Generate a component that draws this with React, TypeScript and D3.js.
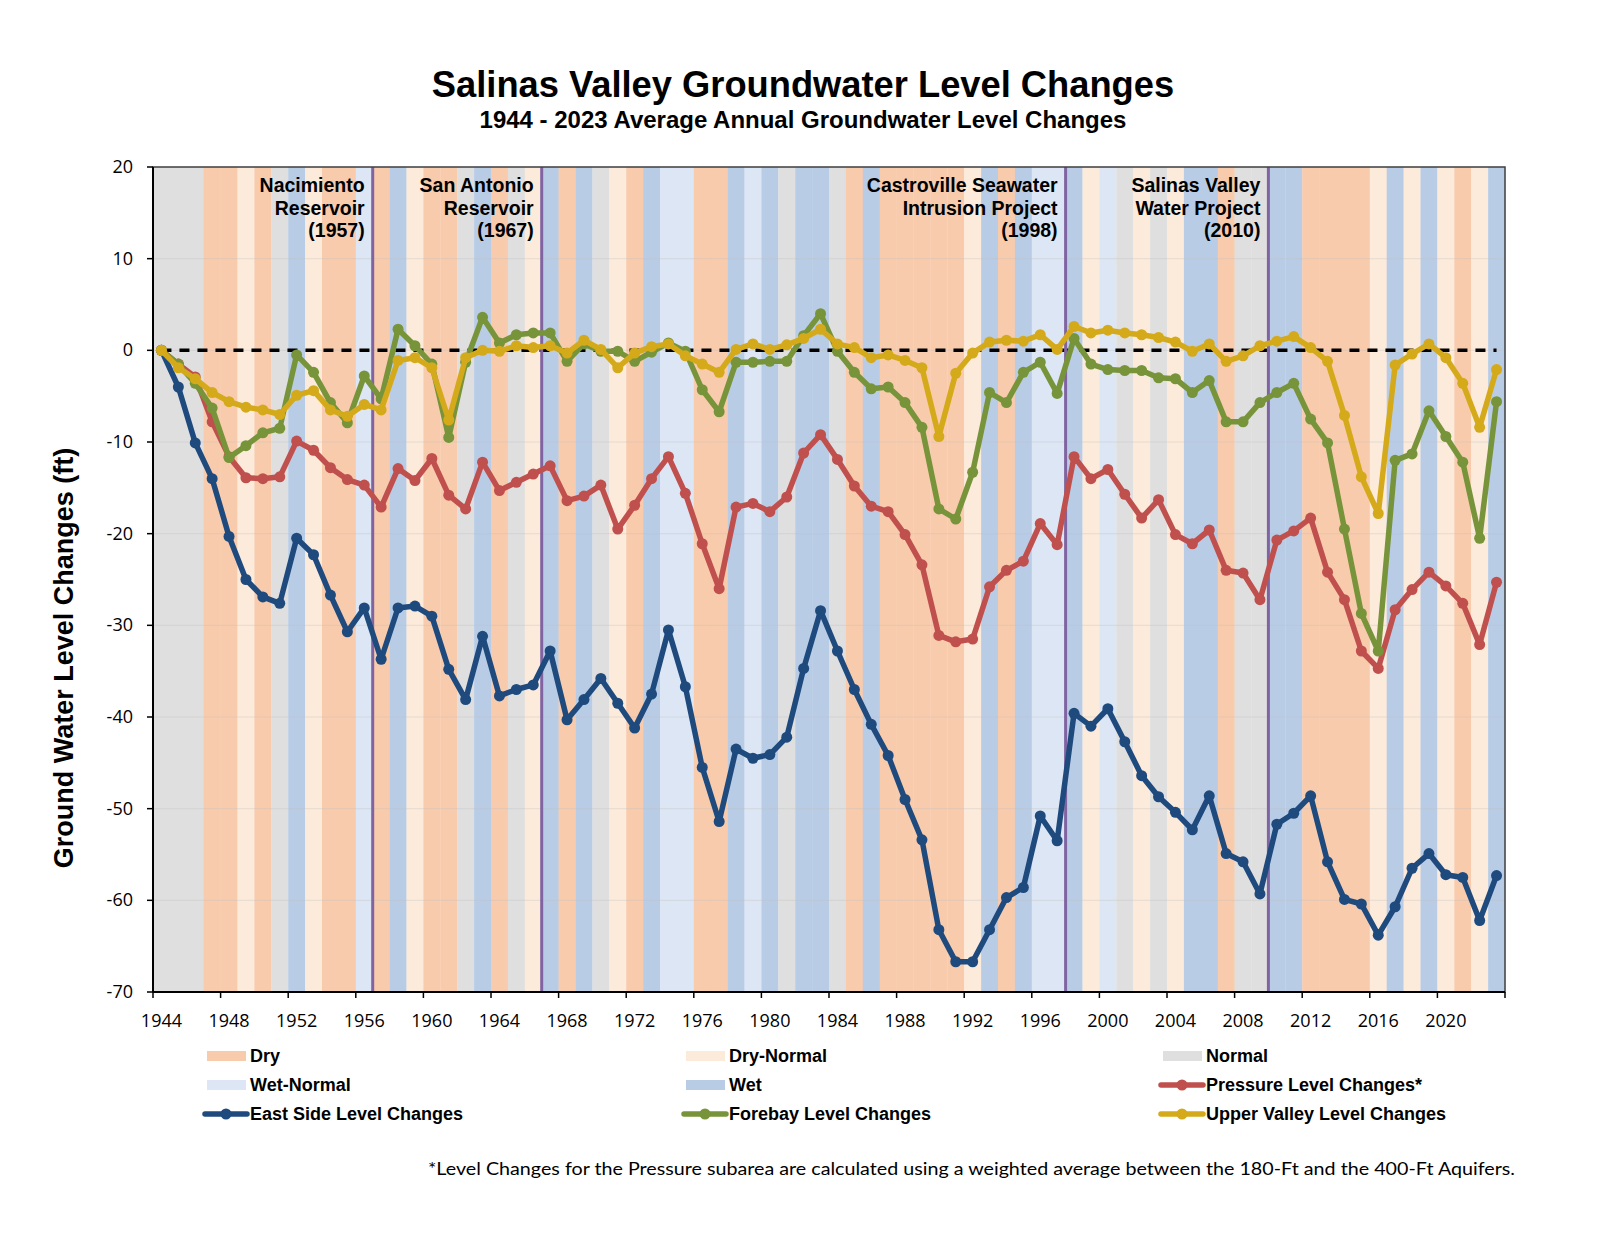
import React from "react";
import * as d3 from "d3";

const years: number[] = d3.range(1944, 2024);

const yearTypes: string[] = [
  "N","N","N","D","D","DN","D","N","W","DN",
  "D","D","WN","D","W","DN","D","D","N","W",
  "D","N","DN","W","D","W","N","DN","D","W",
  "WN","WN","D","D","W","WN","W","N","W","W",
  "N","D","W","D","D","D","D","D","DN","W",
  "D","W","WN","WN","W","DN","WN","N","DN","N",
  "DN","W","W","D","N","N","W","W","D","D",
  "D","D","DN","W","DN","W","DN","D","DN","W",
];

const eastSide: number[] = [
  0, -4.0, -10.1, -14.0, -20.3, -25.0, -26.9, -27.6, -20.5, -22.3,
  -26.7, -30.7, -28.1, -33.7, -28.1, -27.9, -29.0, -34.8, -38.1, -31.2,
  -37.7, -37.0, -36.5, -32.8, -40.3, -38.1, -35.8, -38.5, -41.2, -37.5,
  -30.5, -36.7, -45.5, -51.4, -43.5, -44.5, -44.1, -42.2, -34.7, -28.4,
  -32.8, -37.0, -40.8, -44.2, -49.0, -53.4, -63.2, -66.7, -66.7, -63.2,
  -59.7, -58.6, -50.8, -53.5, -39.6, -41.0, -39.1, -42.7, -46.4, -48.7,
  -50.4, -52.3, -48.6, -54.9, -55.8, -59.3, -51.7, -50.5, -48.6, -55.8,
  -59.9, -60.4, -63.8, -60.7, -56.5, -54.9, -57.2, -57.5, -62.2, -57.3,
];

const pressure: number[] = [
  0, -1.5, -2.9, -7.8, -11.6, -13.9, -14.0, -13.8, -9.9, -10.9,
  -12.8, -14.1, -14.7, -17.1, -12.9, -14.2, -11.8, -15.8, -17.3, -12.2,
  -15.3, -14.4, -13.5, -12.6, -16.4, -15.9, -14.7, -19.5, -16.9, -14.0,
  -11.6, -15.6, -21.1, -26.0, -17.1, -16.7, -17.6, -16.0, -11.2, -9.2,
  -11.9, -14.8, -17.0, -17.6, -20.1, -23.4, -31.1, -31.8, -31.5, -25.8,
  -24.0, -23.0, -18.9, -21.2, -11.6, -14.0, -13.0, -15.7, -18.3, -16.3,
  -20.1, -21.1, -19.6, -24.0, -24.3, -27.2, -20.7, -19.7, -18.3, -24.2,
  -27.2, -32.8, -34.7, -28.3, -26.1, -24.2, -25.7, -27.6, -32.1, -25.3,
];

const forebay: number[] = [
  0, -1.5, -3.6, -6.3, -11.7, -10.4, -9.0, -8.5, -0.5, -2.4,
  -5.7, -7.9, -2.8, -5.3, 2.3, 0.5, -1.5, -9.5, -1.3, 3.6,
  0.8, 1.7, 1.9, 1.9, -1.2, 0.7, -0.1, -0.1, -1.2, -0.2,
  0.8, -0.1, -4.3, -6.7, -1.3, -1.3, -1.2, -1.2, 1.6, 4.0,
  -0.1, -2.4, -4.2, -4.0, -5.7, -8.4, -17.3, -18.4, -13.3, -4.6,
  -5.7, -2.4, -1.3, -4.7, 1.3, -1.5, -2.1, -2.2, -2.2, -3.0,
  -3.1, -4.6, -3.3, -7.8, -7.8, -5.7, -4.6, -3.6, -7.5, -10.1,
  -19.5, -28.7, -32.8, -12.0, -11.3, -6.6, -9.4, -12.2, -20.5, -5.6,
];

const upperValley: number[] = [
  0, -1.9, -3.1, -4.6, -5.6, -6.2, -6.5, -7.0, -4.9, -4.4,
  -6.5, -7.2, -5.9, -6.5, -1.1, -0.8, -1.9, -7.6, -0.8, 0.0,
  -0.1, 0.5, 0.3, 0.5, -0.3, 1.1, 0.1, -1.9, -0.3, 0.4,
  0.7, -0.6, -1.5, -2.4, 0.1, 0.7, 0.1, 0.6, 1.3, 2.3,
  0.7, 0.3, -0.8, -0.5, -1.1, -1.9, -9.4, -2.5, -0.3, 0.9,
  1.1, 1.0, 1.7, 0.1, 2.6, 1.9, 2.2, 1.9, 1.7, 1.4,
  0.9, -0.1, 0.7, -1.2, -0.6, 0.5, 1.0, 1.5, 0.3, -1.2,
  -7.1, -13.8, -17.8, -1.6, -0.4, 0.7, -0.8, -3.6, -8.4, -2.1,
];

const yTicks: number[] = [20, 10, 0, -10, -20, -30, -40, -50, -60, -70];
const xTickYears: number[] = d3.range(1944, 2024, 4);

const milestones = [
  { year: 1957, lines: ["Nacimiento", "Reservoir", "(1957)"] },
  { year: 1967, lines: ["San Antonio", "Reservoir", "(1967)"] },
  { year: 1998, lines: ["Castroville Seawater", "Intrusion Project", "(1998)"] },
  { year: 2010, lines: ["Salinas Valley", "Water Project", "(2010)"] },
];

const typeInfo: Record<string, { label: string; color: string }> = {
  D: { label: "Dry", color: "#F8CBAD" },
  DN: { label: "Dry-Normal", color: "#FCEADB" },
  N: { label: "Normal", color: "#DFDFDF" },
  WN: { label: "Wet-Normal", color: "#DCE6F4" },
  W: { label: "Wet", color: "#B9CCE6" },
};

const seriesList = [
  { name: "Pressure Level Changes*", values: pressure, color: "#C0504D" },
  { name: "East Side Level Changes", values: eastSide, color: "#1F4A7E" },
  { name: "Forebay Level Changes", values: forebay, color: "#77943A" },
  { name: "Upper Valley Level Changes", values: upperValley, color: "#D4AA1B" },
];

const W = 1600;
const H = 1235;
const L = 153, R = 1505, T = 167, B = 992;

export default function App() {
  const x = d3.scaleLinear().domain([1943.5, 2023.5]).range([L, R]);
  const y = d3.scaleLinear().domain([-70, 20]).range([B, T]);
  const line = d3
    .line<number>()
    .x((_, i) => x(years[i]))
    .y((v) => y(v));

  const legendItems = [
    { kind: "box", key: "D" },
    { kind: "box", key: "DN" },
    { kind: "box", key: "N" },
    { kind: "box", key: "WN" },
    { kind: "box", key: "W" },
    { kind: "line", idx: 0 },
    { kind: "line", idx: 1 },
    { kind: "line", idx: 2 },
    { kind: "line", idx: 3 },
  ];
  const colX = [207, 686, 1163];
  const rowY = [1056, 1085, 1114];

  return (
    <svg width={W} height={H} style={{ display: "block", position: "absolute", left: 0, top: 0, background: "#fff" }}
      fontFamily="'Liberation Sans', Arial, sans-serif">
      <text x={803} y={97} textAnchor="middle" fontSize={36.3} fontWeight="bold">
        Salinas Valley Groundwater Level Changes
      </text>
      <text x={803} y={128} textAnchor="middle" fontSize={24} fontWeight="bold">
        1944 - 2023 Average Annual Groundwater Level Changes
      </text>

      {/* bands */}
      {years.map((yr, i) => (
        <rect key={yr} x={x(yr - 0.5)} y={T} width={x(yr + 0.5) - x(yr - 0.5) + 0.3} height={B - T}
          fill={typeInfo[yearTypes[i]].color} />
      ))}

      {/* gridlines */}
      {yTicks.map((t) => (
        <line key={t} x1={L} x2={R} y1={y(t)} y2={y(t)} stroke="#BFBFBF" strokeOpacity={0.35} strokeWidth={1} />
      ))}

      {/* zero dashed line */}
      <line x1={x(1944)} x2={x(2023)} y1={y(0)} y2={y(0)} stroke="#000" strokeWidth={3.5} strokeDasharray="10 8" />

      {/* milestone lines */}
      {milestones.map((m) => (
        <line key={m.year} x1={x(m.year - 0.5)} x2={x(m.year - 0.5)} y1={T} y2={B} stroke="#8064A2" strokeWidth={3} />
      ))}

      {/* series */}
      {seriesList.map((s) => (
        <g key={s.name}>
          <path d={line(s.values) || ""} fill="none" stroke={s.color} strokeWidth={5.5} strokeLinejoin="round" />
          {s.values.map((v, i) => (
            <circle key={i} cx={x(years[i])} cy={y(v)} r={5.5} fill={s.color} />
          ))}
        </g>
      ))}

      {/* milestone labels */}
      {milestones.map((m) => (
        <text key={m.year} textAnchor="end" fontSize={19.5} fontWeight="bold" fill="#000">
          {m.lines.map((ln, j) => (
            <tspan key={j} x={x(m.year - 0.5) - 8} y={192 + j * 22.5}>{ln}</tspan>
          ))}
        </text>
      ))}

      {/* plot frame */}
      <rect x={L} y={T} width={R - L} height={B - T} fill="none" stroke="#404040" strokeWidth={1.5} />
      <line x1={L} x2={L} y1={T} y2={B} stroke="#000" strokeWidth={2} />
      <line x1={L} x2={R} y1={B} y2={B} stroke="#000" strokeWidth={2} />

      {/* y axis ticks */}
      {yTicks.map((t) => (
        <g key={t}>
          <line x1={L - 6} x2={L} y1={y(t)} y2={y(t)} stroke="#000" strokeWidth={1.5} />
          <text x={133} y={y(t) + 6} textAnchor="end" fontSize={18} fontFamily="'Open Sans', sans-serif">{t}</text>
        </g>
      ))}
      {/* x axis ticks */}
      {d3.range(0, 21).map((k) => (
        <line key={k} x1={x(1943.5 + k * 4)} x2={x(1943.5 + k * 4)} y1={B} y2={B + 6} stroke="#000" strokeWidth={1.5} />
      ))}
      {xTickYears.map((yr) => (
        <text key={yr} x={x(yr)} y={1027} textAnchor="middle" fontSize={18} fontFamily="'Open Sans', sans-serif">{yr}</text>
      ))}

      <text transform={`translate(73, 658) rotate(-90)`} textAnchor="middle" fontSize={27} fontWeight="bold">
        Ground Water Level Changes (ft)
      </text>

      {/* legend */}
      {legendItems.map((it, k) => {
        const cx0 = colX[k % 3];
        const cy = rowY[Math.floor(k / 3)];
        if (it.kind === "box") {
          const info = typeInfo[it.key as string];
          return (
            <g key={k}>
              <rect x={cx0} y={cy - 5} width={39} height={10} fill={info.color} />
              <text x={cx0 + 43} y={cy + 6} fontSize={18} fontWeight="bold">{info.label}</text>
            </g>
          );
        }
        const s = seriesList[it.idx as number];
        return (
          <g key={k}>
            <line x1={cx0 - 2} x2={cx0 + 40} y1={cy} y2={cy} stroke={s.color} strokeWidth={5.5} strokeLinecap="round" />
            <circle cx={cx0 + 19} cy={cy} r={5.5} fill={s.color} />
            <text x={cx0 + 43} y={cy + 6} fontSize={18} fontWeight="bold">{s.name}</text>
          </g>
        );
      })}

      <text x={1515} y={1175} textAnchor="end" fontSize={17} fontFamily="Lato, sans-serif" textLength={1087} lengthAdjust="spacingAndGlyphs">
        *Level Changes for the Pressure subarea are calculated using a weighted average between the 180-Ft and the 400-Ft Aquifers.
      </text>
    </svg>
  );
}
